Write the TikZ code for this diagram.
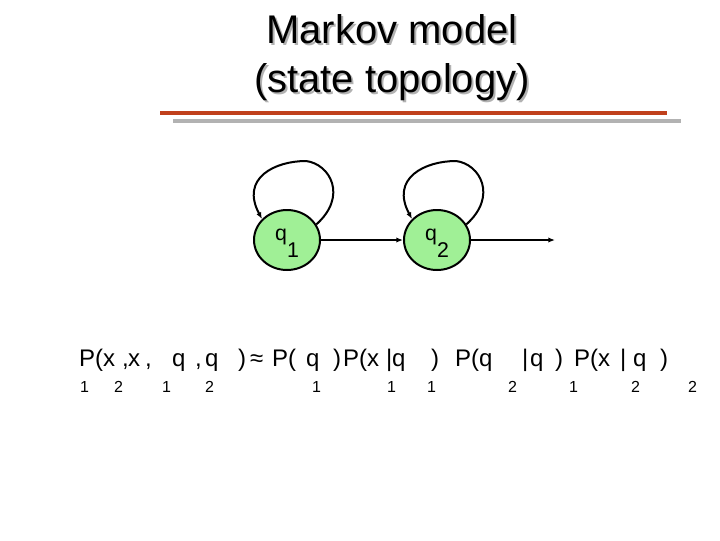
\documentclass[tikz,border=0pt]{standalone}
\usepackage{fontspec}
\setmainfont{Liberation Sans}
\usepackage{tikz}
\usetikzlibrary{arrows.meta,calc,shapes.geometric}
\definecolor{rulered}{RGB}{192,64,28}
\definecolor{rulegray}{RGB}{178,178,178}
\definecolor{stategreen}{RGB}{160,240,150}
\newcommand{\qlab}[1]{\raisebox{0pt}[0pt][0pt]{q\raisebox{-13pt}{#1}}}
\tikzset{
  hmmstate/.style={ellipse,draw,line width=1.5pt,fill=stategreen,minimum width=49.5pt,
    minimum height=45pt,inner sep=0pt,font=\fontsize{16}{16}\selectfont},
  titletext/.style={anchor=base,inner sep=0pt,font=\fontsize{30}{30}\selectfont},
  eqtext/.style={anchor=base west,inner sep=0pt,font=\fontsize{18}{18}\selectfont},
  eqsub/.style={anchor=base west,inner sep=0pt,font=\fontsize{12}{12}\selectfont}
}

\begin{document}
\begin{tikzpicture}[x=0.75pt,y=-0.75pt,>={Latex[length=5pt,width=4pt]},line width=1.5pt]
  \useasboundingbox (0,0) rectangle (720,540);

  \foreach \t/\y [count=\i] in {Markov model/43,(state topology)/92}{
    \node[titletext,text=black!30] (shadow\i) at (394,\y+2) {\t};
    \node[titletext] (title\i) at (392,\y) {\t};
  }
  \draw[rulegray,line width=3pt] (173,121) -- (681,121);
  \draw[rulered,line width=3pt] (160,113) -- (667,113);

  \node[hmmstate] (q1) at (287,240) {\qlab{1}};
  \node[hmmstate] (q2) at (437,240) {\qlab{2}};
  \coordinate (exit) at (555,240);

  \foreach \s in {q1,q2}
    \draw[->] (\s.28) .. controls ($(\s)+(61,-44)$) and ($(\s)+(43,-76)$) .. ($(\s)+(19,-79)$)
      .. controls ($(\s)+(-12,-79)$) and ($(\s)+(-47,-62)$) .. (\s.140);
  \draw[->] (q1) -- (q2);
  \draw[->] (q2) -- (exit);

  \foreach \x/\t [count=\i] in {78/P(x,121/{,},127/x,144/{,},171/q,194/{,},204/q,237/),
      249/≈,271/P(,305/q,332/),342/P(x,385/|q,430/),454/P(q,521/|,529/q,554/),
      573/P(x,619/|,632/q,659/)}
    \node[eqtext] (eq\i) at (\x,366) {\t};
  \foreach \x/\t [count=\i] in {79/1,113/2,161/1,204/2,311/1,386/1,426/1,507/2,568/1,630/2,687/2}
    \node[eqsub] (sub\i) at (\x,392) {\t};
\end{tikzpicture}
\end{document}
